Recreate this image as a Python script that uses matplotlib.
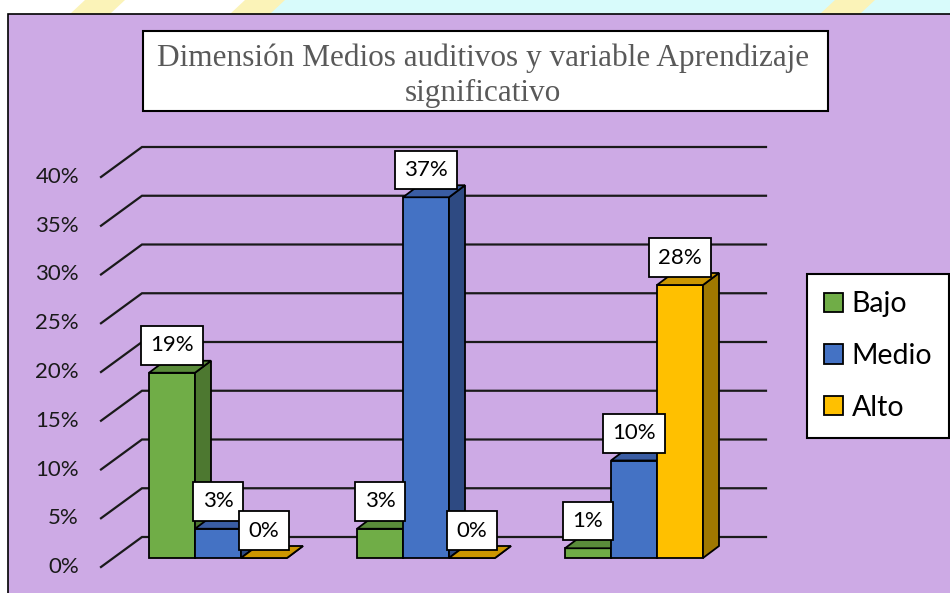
import numpy as np
import matplotlib.pyplot as plt
from matplotlib.patches import Polygon, Rectangle, Patch

# datos
series = ["Bajo", "Medio", "Alto"]
bajo = [19, 3, 1]
medio = [3, 37, 10]
alto = [0, 0, 28]
ticks = [0, 5, 10, 15, 20, 25, 30, 35, 40]
titulo = "Dimensión Medios auditivos y variable Aprendizaje\nsignificativo"

front_col = ["#70AD47", "#4472C4", "#FFC000"]
side_col = ["#4D7830", "#2E4A82", "#A07800"]
top_col = ["#5A8C3A", "#3A5DA3", "#CC9600"]
purple = "#CDAAE5"

W, H = 950, 593
PX, PY = 208.0, 9.75          # px per category, px per percent
X0, Y0 = 218, 558             # pixel of category 0 / value 0

fig = plt.figure(figsize=(W / 100, H / 100), dpi=100, facecolor="white")

# watermark strip on top
fig.patches.append(Rectangle((260 / W, 1 - 14 / H), 1, 14 / H, transform=fig.transFigure,
                             facecolor="#D8FBFB", edgecolor="none", zorder=-3))
for xs in [(70, 110, 125, 85), (230, 270, 285, 245), (820, 860, 875, 835)]:
    fig.patches.append(Polygon([(xs[0] / W, 1 - 14 / H), (xs[1] / W, 1 - 14 / H), (xs[2] / W, 1), (xs[3] / W, 1)],
                               transform=fig.transFigure, facecolor="#FBF3B8", edgecolor="none", zorder=-2))
# chart area
fig.patches.append(Rectangle((8 / W, -0.05), 1.0, 1 - 14 / H + 0.05, transform=fig.transFigure,
                             facecolor=purple, edgecolor="black", lw=1.2, zorder=-1))

ax = fig.add_axes([0, 0, 1, 1])
ax.set_xlim(-X0 / PX, (W - X0) / PX)
ax.set_ylim(-(H - Y0) / PY, Y0 / PY)
ax.axis("off")
ax.patch.set_alpha(0)

# walls / gridlines
gx_front, gx_back, gx_end = (101 - X0) / PX, (142 - X0) / PX, (766 - X0) / PX
fy_off, by_off = -9 / PY, 21 / PY
for t in ticks:
    ax.plot([gx_front, gx_back, gx_end], [t + fy_off, t + by_off, t + by_off],
            color="#1A1A1A", lw=1.6, solid_joinstyle="miter", zorder=1)
    ax.text((79 - X0) / PX, t + fy_off, f"{t}%", ha="right", va="center",
            fontsize=16, color="#1A1A1A", family=["Lato", "DejaVu Sans"])

# 3D bars
x = np.arange(len(bajo))
bw = 46 / PX
ddx, ddy = 16 / PX, 12 / PY
valores = [bajo, medio, alto]
for g in range(len(x)):
    for s in range(3):
        v = valores[s][g]
        xc = x[g] + (s - 1) * bw
        xl, xr = xc - bw / 2, xc + bw / 2
        z = 3 + g * 3 + s
        ax.bar(xc, v, width=bw, color=front_col[s], edgecolor="black", lw=1.3, zorder=z)
        ax.add_patch(Polygon([(xr, 0), (xr + ddx, ddy), (xr + ddx, v + ddy), (xr, v)],
                             facecolor=side_col[s], edgecolor="black", lw=1.3, zorder=z))
        ax.add_patch(Polygon([(xl, v), (xr, v), (xr + ddx, v + ddy), (xl + ddx, v + ddy)],
                             facecolor=top_col[s], edgecolor="black", lw=1.3, zorder=z))
        ax.text(xc, v + 2.8, f"{v}%", ha="center", va="center", fontsize=16, color="black",
                family=["Lato", "DejaVu Sans"], zorder=30,
                bbox=dict(boxstyle="square,pad=0.42", facecolor="white", edgecolor="black", lw=1.3))

# title
fig.patches.append(Rectangle((143 / W, 1 - 111 / H), (828 - 143) / W, 80 / H, transform=fig.transFigure,
                             facecolor="white", edgecolor="black", lw=1.5, zorder=1))
fig.text(483 / W, 1 - 76 / H, titulo, ha="center", va="center", multialignment="center",
         fontsize=22.5, color="#595959", family=["Liberation Serif", "DejaVu Serif"],
         linespacing=1.28, zorder=2)

# legend
handles = [Patch(facecolor=front_col[i], edgecolor="black", lw=1.3, label=series[i]) for i in range(3)]
leg = fig.legend(handles=handles, loc="center", bbox_to_anchor=(878 / W, 1 - 356 / H),
                 prop={"family": ["Lato", "DejaVu Sans"], "size": 20.5},
                 frameon=True, fancybox=False, framealpha=1, edgecolor="black",
                 handlelength=0.66, handleheight=0.66, handletextpad=0.32,
                 labelspacing=0.9, borderpad=0.6)
leg.get_frame().set_linewidth(1.5)

fig.savefig("out.png", dpi=100, facecolor=fig.get_facecolor())
